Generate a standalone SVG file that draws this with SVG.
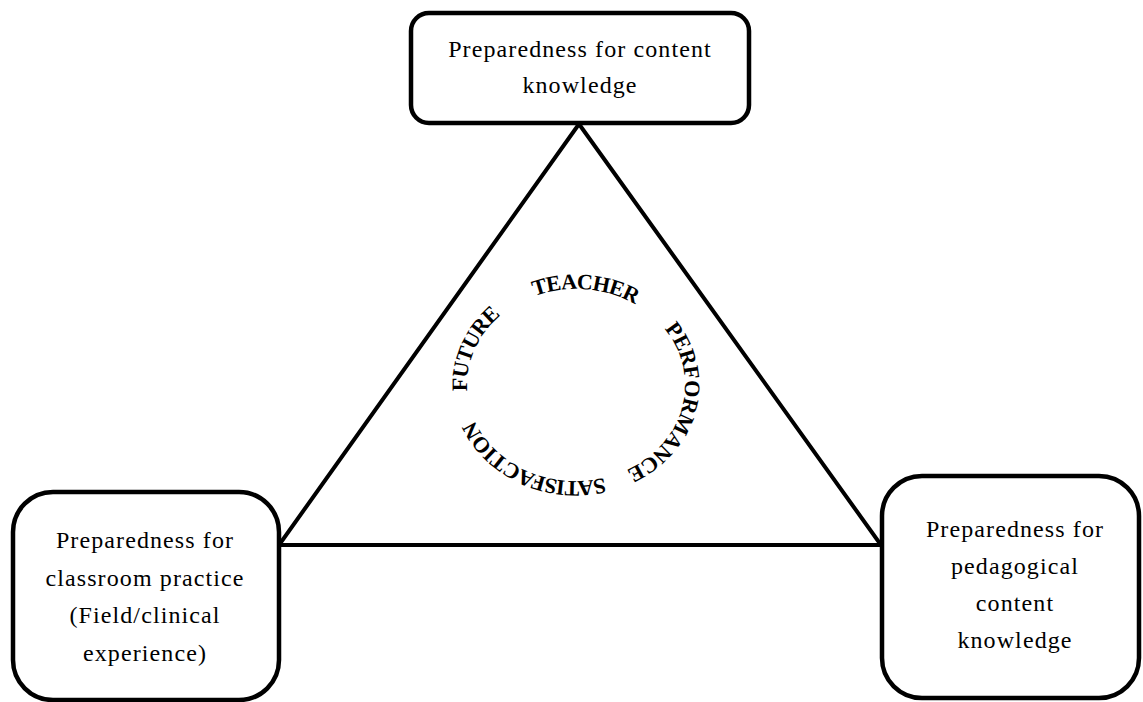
<svg xmlns="http://www.w3.org/2000/svg" width="1143" height="702" viewBox="0 0 1143 702">
<style>
.box{fill:#fff;stroke:#000;stroke-width:4.5}
.lbl{font-family:"Liberation Serif",serif;font-size:24px;letter-spacing:1.1px;fill:#000;text-anchor:middle}
.arc{font-family:"Liberation Serif",serif;font-size:22px;font-weight:bold;letter-spacing:-0.8px;fill:#000}
.tri{fill:none;stroke:#000;stroke-width:4;stroke-linejoin:miter}
</style>
<defs>
<path id="ring" d="M470.7,409.85 A109,96 0 1 1 681.3,360.15 A109,96 0 1 1 470.7,409.85"/>
</defs>
<rect width="1143" height="702" fill="#fff"/>
<g id="connectors">
<polygon class="tri" points="579,124 279,545 881,545"/>
</g>
<g id="node-top">
<rect class="box" x="411" y="13" width="338" height="110" rx="18"/>
<text class="lbl" x="580" y="57">Preparedness for content</text>
<text class="lbl" x="580" y="93">knowledge</text>
</g>
<g id="node-left">
<rect class="box" x="13" y="492" width="266" height="208" rx="40"/>
<text class="lbl" x="145" y="548">Preparedness for</text>
<text class="lbl" x="145" y="586">classroom practice</text>
<text class="lbl" x="145" y="623">(Field/clinical</text>
<text class="lbl" x="145" y="661">experience)</text>
</g>
<g id="node-right">
<rect class="box" x="882" y="476" width="257" height="222" rx="40"/>
<text class="lbl" x="1015" y="537">Preparedness for</text>
<text class="lbl" x="1015" y="574">pedagogical</text>
<text class="lbl" x="1015" y="611">content</text>
<text class="lbl" x="1015" y="648">knowledge</text>
</g>
<g id="center-text">
<text class="arc"><textPath href="#ring" startOffset="19">FUTURE</textPath></text>
<text class="arc"><textPath href="#ring" startOffset="144">TEACHER</textPath></text>
<text class="arc" style="letter-spacing:-0.3px"><textPath href="#ring" startOffset="286">PERFORMANCE</textPath></text>
<text class="arc"><textPath href="#ring" startOffset="480">SATISFACTION</textPath></text>
</g>
</svg>
